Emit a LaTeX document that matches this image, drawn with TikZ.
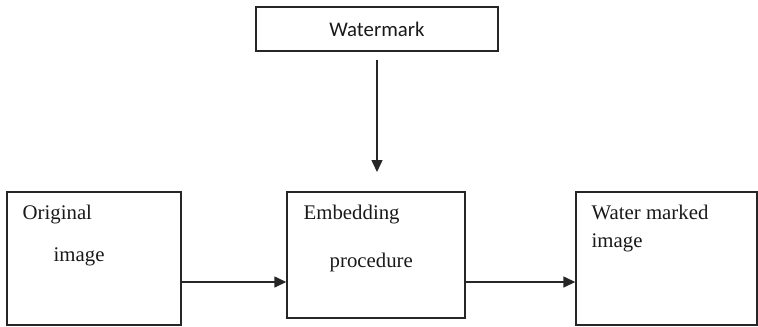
\documentclass[tikz,border=0pt]{standalone}
\usepackage{fontspec}
\setmainfont{Liberation Serif}
\newfontfamily\labelfont{Carlito}
\usetikzlibrary{arrows.meta, calc}

\begin{document}
\begin{tikzpicture}[x=0.5bp, y=-0.5bp, >={Triangle[length=6bp, width=5.5bp]},
    line width=0.7bp, draw=black!85,
    font=\fontsize{10.4bp}{12.5bp}\selectfont]
    \tikzset{
        blockbox/.style={draw, rectangle, inner sep=0pt},
        boxtext/.style={anchor=base west, inner sep=0pt, text=black!90}
    }
    \useasboundingbox (0,0) rectangle (758,326);

    % Watermark input (sans serif label)
    \node[blockbox, minimum width=121bp, minimum height=22bp,
          font=\labelfont\fontsize{10.4bp}{12.5bp}\selectfont, text=black!90]
        (wm) at (377,29) {Watermark};

    % Three blocks of the main row
    \node[blockbox, minimum width=87bp, minimum height=66.5bp] (orig) at (94,258.5) {};
    \node[blockbox, minimum width=89bp, minimum height=63bp] (embed) at (376,255) {};
    \node[blockbox, minimum width=90.5bp, minimum height=66.5bp] (wmimg) at (666.5,258.5) {};

    % Text inside the blocks
    \node[boxtext] (origa) at (22,219) {Original};
    \node[boxtext] (origb) at (53,261) {image};
    \node[boxtext] (embeda) at (303,219) {Embedding};
    \node[boxtext] (embedb) at (329,267) {procedure};
    \node[boxtext] (wmimga) at (591,219) {Water marked};
    \node[boxtext] (wmimgb) at (591,247) {image};

    % Arrow ends
    \coordinate (row) at (0,282);
    \coordinate (wmout) at (377,60);
    \coordinate (embin) at (377,172);

    % Arrows
    \draw[->] (wmout) -- (embin);
    \draw[->] (orig.east |- row) -- (embed.west |- row);
    \draw[->] (embed.east |- row) -- (wmimg.west |- row);
\end{tikzpicture}
\end{document}
